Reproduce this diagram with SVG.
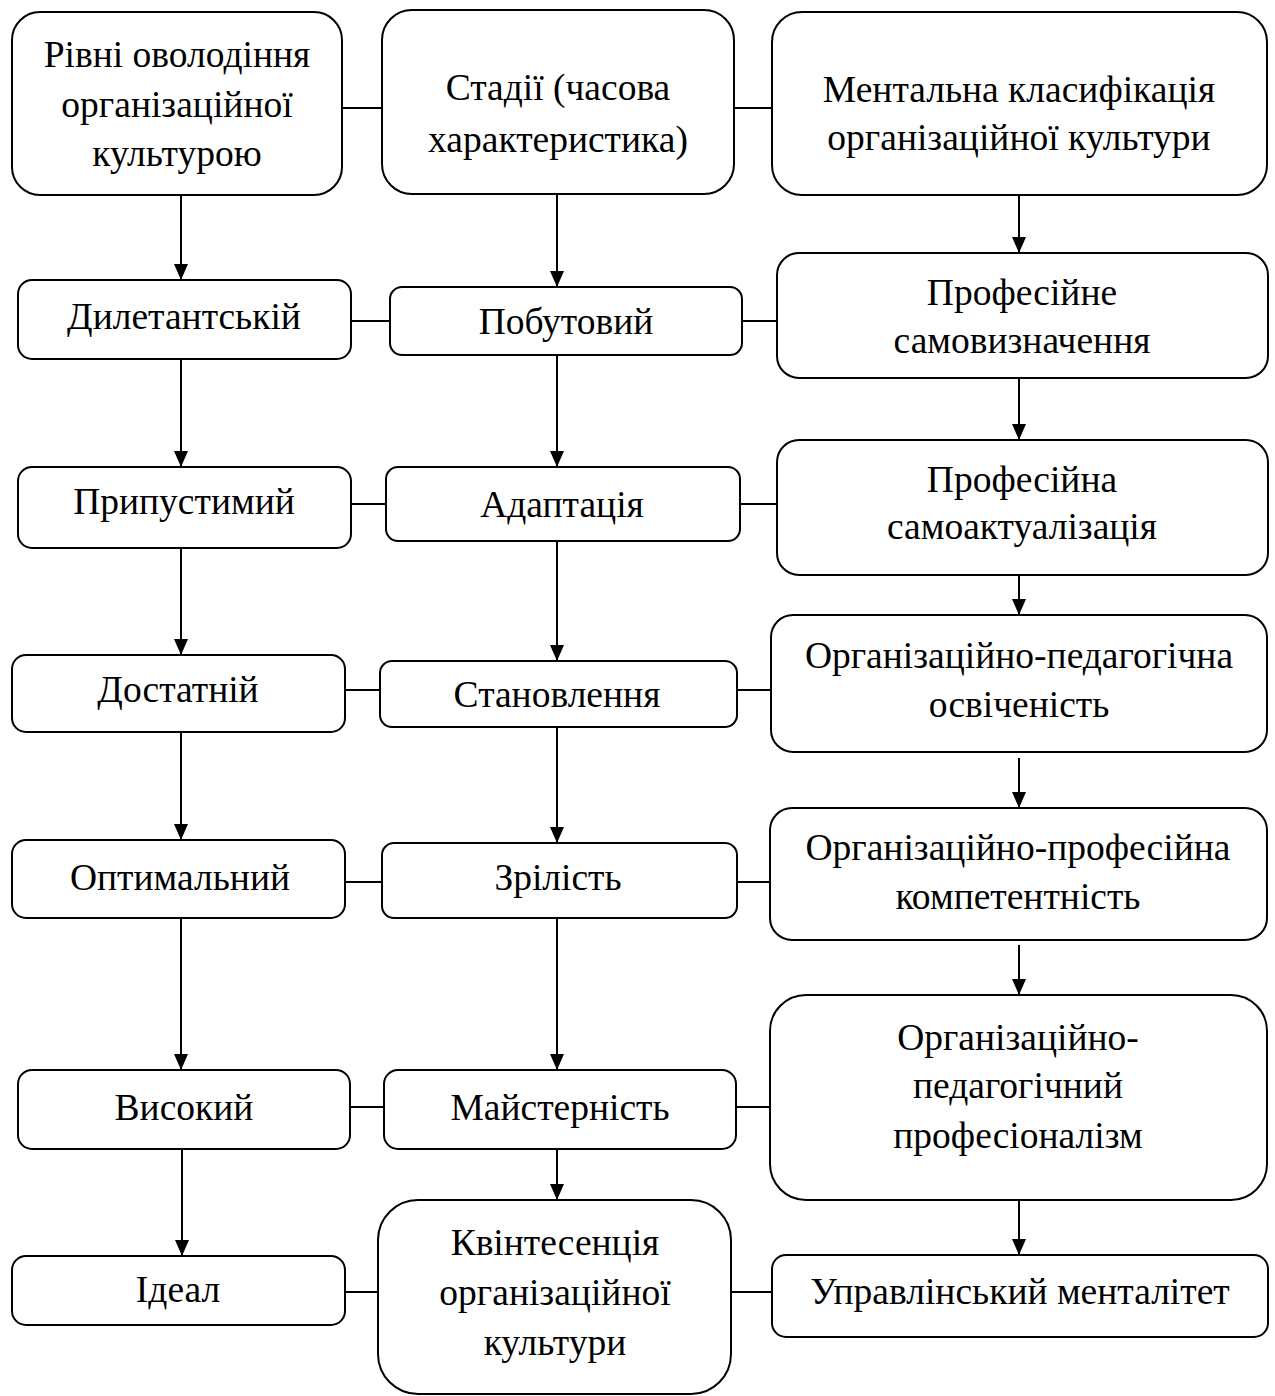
<svg xmlns="http://www.w3.org/2000/svg" width="1275" height="1396" viewBox="0 0 1275 1396">
<style>
.b{fill:#fff;stroke:#000;stroke-width:2}
.t{font-family:"Liberation Serif","Times New Roman",serif;font-size:37.5px;fill:#000;text-anchor:middle}
.c{stroke:#000;stroke-width:2;fill:none}
</style>
<defs>
<marker id="arr" viewBox="0 0 16 14" refX="16" refY="7" markerWidth="16" markerHeight="14" markerUnits="userSpaceOnUse" orient="auto">
<path d="M0,0 L16,7 L0,14 Z" fill="#000"/>
</marker>
</defs>
<rect width="1275" height="1396" fill="#fff"/>
<g id="connectors">
<path class="c" marker-end="url(#arr)" d="M181,195 V280"/>
<path class="c" marker-end="url(#arr)" d="M181,359 V467"/>
<path class="c" marker-end="url(#arr)" d="M181,548 V655"/>
<path class="c" marker-end="url(#arr)" d="M181,732 V840"/>
<path class="c" marker-end="url(#arr)" d="M181,918 V1070"/>
<path class="c" marker-end="url(#arr)" d="M182,1146 V1256"/>
<path class="c" marker-end="url(#arr)" d="M557,194 V287"/>
<path class="c" marker-end="url(#arr)" d="M557,355 V467"/>
<path class="c" marker-end="url(#arr)" d="M557,541 V661"/>
<path class="c" marker-end="url(#arr)" d="M557,727 V843"/>
<path class="c" marker-end="url(#arr)" d="M557,918 V1070"/>
<path class="c" marker-end="url(#arr)" d="M557,1149 V1200"/>
<path class="c" marker-end="url(#arr)" d="M1019,195 V253"/>
<path class="c" marker-end="url(#arr)" d="M1019,378 V440"/>
<path class="c" marker-end="url(#arr)" d="M1019,564 V615"/>
<path class="c" marker-end="url(#arr)" d="M1019,758 V808"/>
<path class="c" marker-end="url(#arr)" d="M1019,945 V995"/>
<path class="c" marker-end="url(#arr)" d="M1019,1200 V1255"/>
<path class="c" d="M342,108 H382 M734,108 H772"/>
<path class="c" d="M351,321 H390 M742,321 H777"/>
<path class="c" d="M351,504 H386 M740,504 H777"/>
<path class="c" d="M345,690 H380 M737,690 H771"/>
<path class="c" d="M345,882 H382 M737,882 H770"/>
<path class="c" d="M350,1107 H384 M736,1107 H770"/>
<path class="c" d="M345,1292 H378 M731,1292 H772"/>
</g>
<g id="n1"><rect class="b" x="12" y="12" width="330" height="183" rx="28"/>
<text class="t" x="177" y="67">Рівні оволодіння</text><text class="t" x="177" y="117">організаційної</text><text class="t" x="177" y="166">культурою</text></g>
<g id="n2"><rect class="b" x="382" y="10" width="352" height="184" rx="30"/>
<text class="t" x="558" y="100">Стадії (часова</text><text class="t" x="558" y="152">характеристика)</text></g>
<g id="n3"><rect class="b" x="772" y="12" width="495" height="183" rx="30"/>
<text class="t" x="1019" y="102">Ментальна класифікація</text><text class="t" x="1019" y="150">організаційної культури</text></g>
<g id="n4"><rect class="b" x="18" y="280" width="333" height="79" rx="14"/>
<text class="t" x="184" y="329">Дилетантській</text></g>
<g id="n5"><rect class="b" x="390" y="287" width="352" height="68" rx="12"/>
<text class="t" x="566" y="334">Побутовий</text></g>
<g id="n6"><rect class="b" x="777" y="253" width="491" height="125" rx="22"/>
<text class="t" x="1022" y="305">Професійне</text><text class="t" x="1022" y="353">самовизначення</text></g>
<g id="n7"><rect class="b" x="18" y="467" width="333" height="81" rx="14"/>
<text class="t" x="184" y="514">Припустимий</text></g>
<g id="n8"><rect class="b" x="386" y="467" width="354" height="74" rx="12"/>
<text class="t" x="562" y="517">Адаптація</text></g>
<g id="n9"><rect class="b" x="777" y="440" width="491" height="135" rx="22"/>
<text class="t" x="1022" y="492">Професійна</text><text class="t" x="1022" y="539">самоактуалізація</text></g>
<g id="n10"><rect class="b" x="12" y="655" width="333" height="77" rx="14"/>
<text class="t" x="178" y="702">Достатній</text></g>
<g id="n11"><rect class="b" x="380" y="661" width="357" height="66" rx="12"/>
<text class="t" x="557" y="707">Становлення</text></g>
<g id="n12"><rect class="b" x="771" y="615" width="496" height="137" rx="22"/>
<text class="t" x="1019" y="668">Організаційно-педагогічна</text><text class="t" x="1019" y="717">освіченість</text></g>
<g id="n13"><rect class="b" x="12" y="840" width="333" height="78" rx="14"/>
<text class="t" x="180" y="890">Оптимальний</text></g>
<g id="n14"><rect class="b" x="382" y="843" width="355" height="75" rx="12"/>
<text class="t" x="558" y="890">Зрілість</text></g>
<g id="n15"><rect class="b" x="770" y="808" width="497" height="132" rx="22"/>
<text class="t" x="1018" y="860">Організаційно-професійна</text><text class="t" x="1018" y="909">компетентність</text></g>
<g id="n16"><rect class="b" x="18" y="1070" width="332" height="79" rx="14"/>
<text class="t" x="184" y="1120">Високий</text></g>
<g id="n17"><rect class="b" x="384" y="1070" width="352" height="79" rx="14"/>
<text class="t" x="560" y="1120">Майстерність</text></g>
<g id="n18"><rect class="b" x="770" y="995" width="497" height="205" rx="36"/>
<text class="t" x="1018" y="1050">Організаційно-</text><text class="t" x="1018" y="1098">педагогічний</text><text class="t" x="1018" y="1148">професіоналізм</text></g>
<g id="n19"><rect class="b" x="12" y="1256" width="333" height="69" rx="14"/>
<text class="t" x="178" y="1302">Ідеал</text></g>
<g id="n20"><rect class="b" x="378" y="1200" width="353" height="194" rx="40"/>
<text class="t" x="555" y="1255">Квінтесенція</text><text class="t" x="555" y="1305">організаційної</text><text class="t" x="555" y="1355">культури</text></g>
<g id="n21"><rect class="b" x="772" y="1255" width="496" height="82" rx="14"/>
<text class="t" x="1020" y="1304">Управлінський менталітет</text></g>
</svg>
